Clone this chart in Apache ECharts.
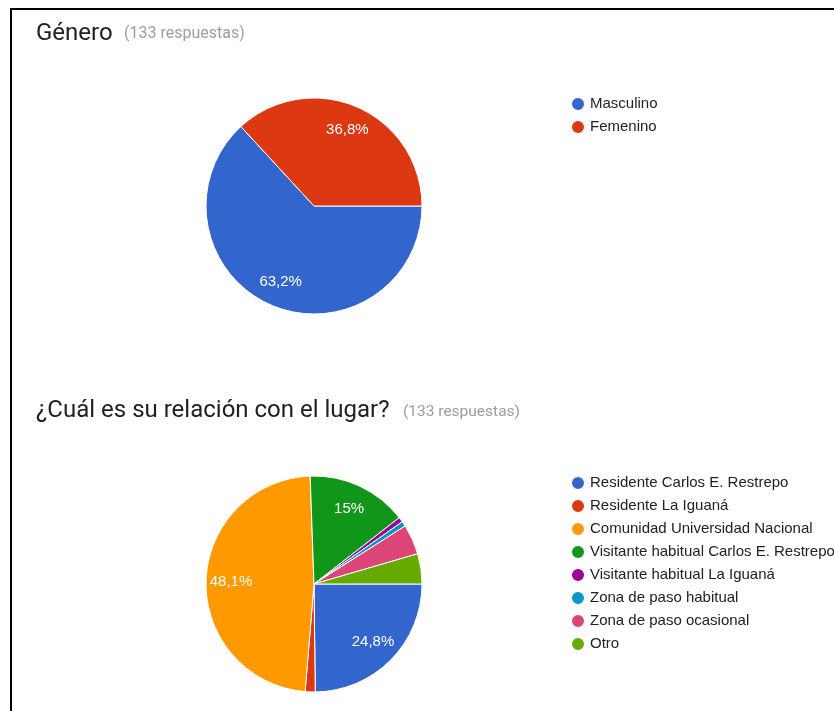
<!DOCTYPE html>
<html>
<head>
<meta charset="utf-8">
<script src="https://cdn.jsdelivr.net/npm/echarts@6/dist/echarts.min.js"></script>
<style>
  html, body { margin: 0; padding: 0; background: #fff; }
  #chart { width: 834px; height: 711px; }
</style>
</head>
<body>
<div id="chart"></div>
<script>
// Survey results: 133 responses per question
const genderNames = ['Masculino', 'Femenino'];
const genderCounts = [84, 49];
const genderColors = ['#3366cc', '#dc3912'];

const placeNames = [
  'Residente Carlos E. Restrepo',
  'Residente La Iguaná',
  'Comunidad Universidad Nacional',
  'Visitante habitual Carlos E. Restrepo',
  'Visitante habitual La Iguaná',
  'Zona de paso habitual',
  'Zona de paso ocasional',
  'Otro'
];
const placeCounts = [33, 2, 64, 20, 1, 1, 6, 6];
const placeColors = ['#3366cc', '#dc3912', '#ff9900', '#109618', '#990099', '#0099c6', '#dd4477', '#66aa00'];

const FONT = 'Arial, "Liberation Sans", sans-serif';
const TITLE_FONT = 'Roboto, sans-serif';

function toData(names, counts, colors) {
  return names.map((n, i) => ({ name: n, value: counts[i], itemStyle: { color: colors[i] } }));
}

// Percent text with a decimal comma, dropping a trailing ",0"
function pctLabel(p) {
  const s = p.toFixed(1);
  return (s.endsWith('.0') ? s.slice(0, -2) : s).replace('.', ',') + '%';
}

function pieSeries(center, names, counts, colors) {
  const base = {
    type: 'pie',
    center: center,
    radius: [0, 108],
    startAngle: 0,
    clockwise: true,
    avoidLabelOverlap: false,
    animation: false,
    data: toData(names, counts, colors),
    itemStyle: { borderColor: '#fff', borderWidth: 1 },
    label: { show: false },
    labelLine: { show: false },
    emphasis: { disabled: true }
  };
  // Transparent ring on top that carries the percentage labels further out
  const labels = {
    type: 'pie',
    center: center,
    radius: [52, 108],
    startAngle: 0,
    clockwise: true,
    silent: true,
    avoidLabelOverlap: false,
    animation: false,
    legendHoverLink: false,
    data: names.map((n, i) => ({ name: n, value: counts[i], itemStyle: { color: 'rgba(0,0,0,0)' } })),
    label: {
      show: true,
      position: 'inside',
      color: '#fff',
      fontFamily: FONT,
      fontSize: 15,
      fontWeight: 'normal',
      formatter: p => p.percent >= 10 ? pctLabel(p.percent) : ''
    },
    labelLine: { show: false },
    emphasis: { disabled: true }
  };
  return [base, labels];
}

const chart = echarts.init(document.getElementById('chart'), null, { renderer: 'canvas' });

const legendCommon = {
  orient: 'vertical',
  left: 570,
  padding: 0,
  icon: 'circle',
  itemWidth: 14,
  itemHeight: 14,
  itemGap: 7,
  selectedMode: false,
  textStyle: { fontFamily: FONT, fontSize: 15, lineHeight: 15, color: '#222' }
};

const titleCommon = { padding: 0 };

chart.setOption({
  backgroundColor: '#fff',
  title: [
    Object.assign({}, titleCommon, {
      text: 'Género',
      left: 36, top: 22,
      textStyle: { fontFamily: TITLE_FONT, fontSize: 24, fontWeight: 'normal', color: '#212121' }
    }),
    Object.assign({}, titleCommon, {
      text: '(133 respuestas)',
      left: 124, top: 26,
      textStyle: { fontFamily: TITLE_FONT, fontSize: 16, fontWeight: 'normal', color: '#9e9aab' }
    }),
    Object.assign({}, titleCommon, {
      text: '¿Cuál es su relación con el lugar?',
      left: 36, top: 399,
      textStyle: { fontFamily: TITLE_FONT, fontSize: 24, fontWeight: 'normal', color: '#212121' }
    }),
    Object.assign({}, titleCommon, {
      text: '(133 respuestas)',
      left: 403, top: 404,
      textStyle: { fontFamily: TITLE_FONT, fontSize: 15.5, fontWeight: 'normal', color: '#9e9aab' }
    })
  ],
  legend: [
    Object.assign({}, legendCommon, { top: 96, data: genderNames }),
    Object.assign({}, legendCommon, { top: 475, data: placeNames })
  ],
  graphic: [
    { type: 'line', shape: { x1: 10, y1: 9, x2: 834, y2: 9 }, style: { stroke: '#000', lineWidth: 2 } },
    { type: 'line', shape: { x1: 11, y1: 8, x2: 11, y2: 711 }, style: { stroke: '#000', lineWidth: 2 } }
  ],
  series: [
    ...pieSeries([314, 206], genderNames, genderCounts, genderColors),
    ...pieSeries([314, 584], placeNames, placeCounts, placeColors)
  ]
});
</script>
</body>
</html>
